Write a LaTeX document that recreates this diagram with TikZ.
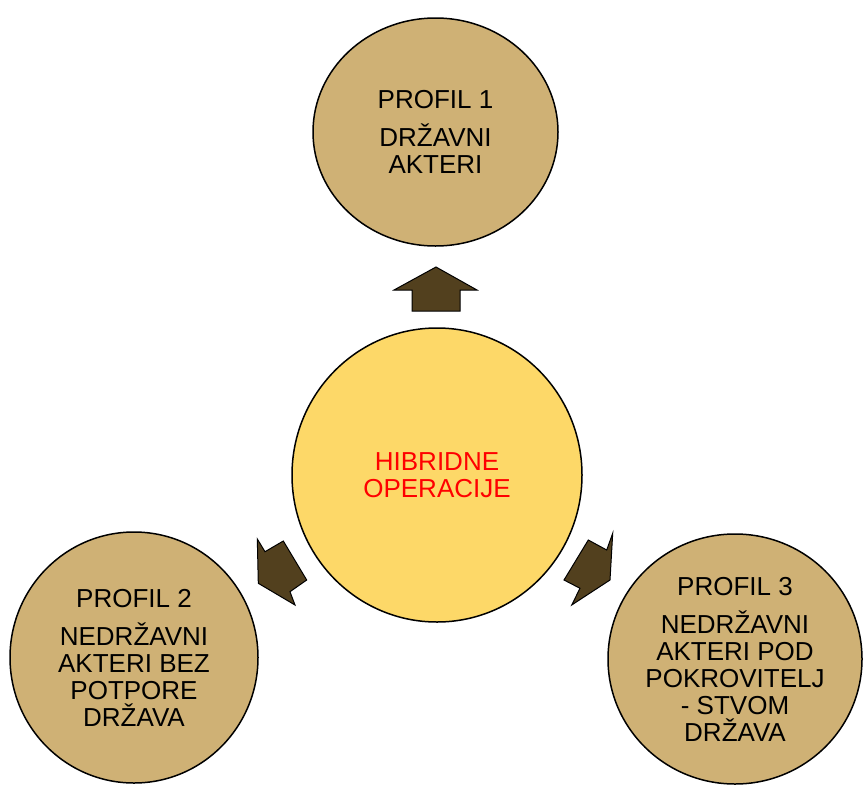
\documentclass[tikz,border=0pt]{standalone}
\usepackage{fontspec}
\setmainfont{Liberation Sans}
\usetikzlibrary{shapes.geometric}

\definecolor{profilboja}{RGB}{207,177,117}
\definecolor{jezgraboja}{RGB}{253,216,104}
\definecolor{strelicaboja}{RGB}{82,64,30}

\begin{document}
\begin{tikzpicture}[x=1pt,y=-1pt,line width=1.5pt]
	\tikzstyle{profil}=[ellipse,draw=black,fill=profilboja,text=black,inner sep=0pt,
	                    align=center,font=\fontsize{26}{27}\selectfont]
	\tikzstyle{jezgra}=[profil,fill=jezgraboja,text=red]
	\tikzstyle{strelica}=[fill=strelicaboja,draw=black,line width=1pt,line join=miter]

	\useasboundingbox (0,0) rectangle (864,787);

	% krugovi
	\node[jezgra,minimum width=290pt,minimum height=294pt]	(H)	at (437,475)	{HIBRIDNE\\OPERACIJE};
	\node[profil,minimum width=245pt,minimum height=228pt]	(P1)	at (435.5,132)	{PROFIL 1\\[11pt]DRŽAVNI\\AKTERI};
	\node[profil,minimum width=248pt,minimum height=251pt]	(P2)	at (134,657.5)	{PROFIL 2\\[11pt]NEDRŽAVNI\\AKTERI BEZ\\POTPORE\\DRŽAVA};
	\node[profil,minimum width=254pt,minimum height=250pt]	(P3)	at (735,659)	{PROFIL 3\\[11pt]NEDRŽAVNI\\AKTERI POD\\POKROVITELJ\\- STVOM\\DRŽAVA};

	% strelice
	\filldraw[strelica] (436,267) -- (477,290) -- (460,290) -- (460,311)
		-- (412,311) -- (412,290) -- (394,290) -- cycle;
	\fill[strelica] (257.3,539) -- (265,551.7) -- (283.3,541) -- (306.7,580)
		-- (290,591.7) -- (295,605) -- (258.3,583.3) -- cycle;
	\filldraw[strelica] (612.7,533.3) -- (606.7,550) -- (588.3,540) -- (564,580)
		-- (580,588.3) -- (571.7,605) -- (610,580) -- cycle;
\end{tikzpicture}
\end{document}
